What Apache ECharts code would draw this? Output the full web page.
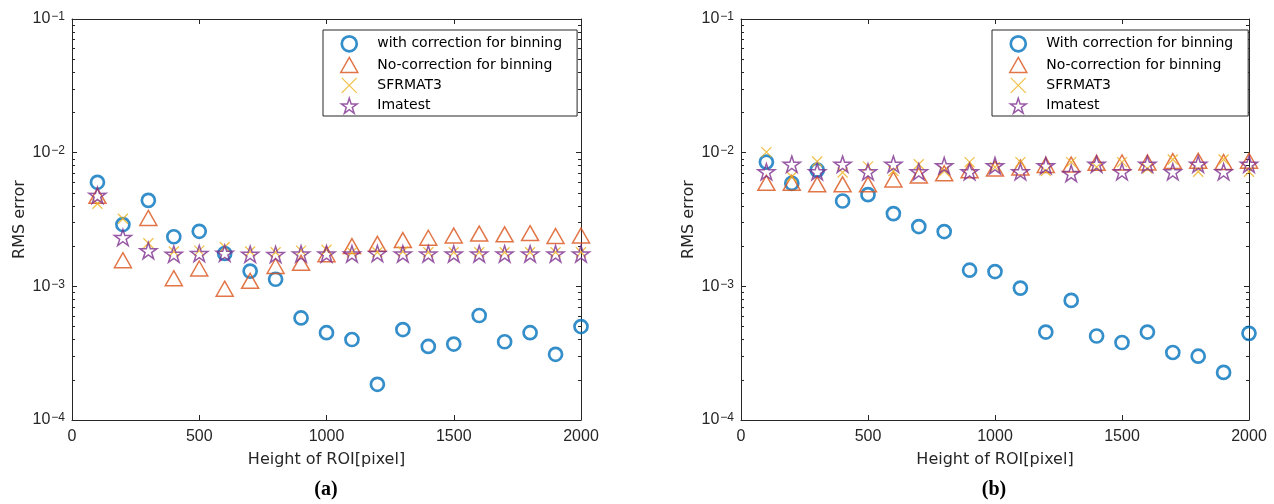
<!DOCTYPE html>
<html>
<head>
<meta charset="utf-8">
<script src="https://cdn.jsdelivr.net/npm/echarts@6/dist/echarts.min.js"></script>
<style>
html,body{margin:0;padding:0;background:#fff;}
#chart{width:1274px;height:504px;}
</style>
</head>
<body>
<div id="chart"></div>
<script>
// ---- data ----
const heights = [100,200,300,400,500,600,700,800,900,1000,1100,1200,1300,1400,1500,1600,1700,1800,1900,2000];

// (a)
const aWith = [6.0e-3,2.9e-3,4.4e-3,2.35e-3,2.58e-3,1.76e-3,1.3e-3,1.13e-3,5.8e-4,4.5e-4,4.0e-4,1.85e-4,4.75e-4,3.55e-4,3.7e-4,6.05e-4,3.85e-4,4.5e-4,3.1e-4,5.0e-4];
const aNo   = [4.75e-3,1.57e-3,3.25e-3,1.15e-3,1.36e-3,0.96e-3,1.1e-3,1.42e-3,1.5e-3,1.74e-3,2.0e-3,2.08e-3,2.22e-3,2.31e-3,2.4e-3,2.48e-3,2.45e-3,2.5e-3,2.38e-3,2.4e-3];
const aSfr  = [4.15e-3,3.2e-3,2.1e-3,1.82e-3,1.85e-3,1.97e-3,1.82e-3,1.8e-3,1.85e-3,1.88e-3,1.8e-3,1.8e-3,1.82e-3,1.8e-3,1.8e-3,1.8e-3,1.8e-3,1.8e-3,1.8e-3,1.8e-3];
const aIma  = [4.8e-3,2.32e-3,1.85e-3,1.74e-3,1.76e-3,1.77e-3,1.74e-3,1.73e-3,1.75e-3,1.75e-3,1.75e-3,1.76e-3,1.75e-3,1.75e-3,1.75e-3,1.75e-3,1.75e-3,1.75e-3,1.75e-3,1.75e-3];

// (b)
const bWith = [8.5e-3,5.9e-3,7.4e-3,4.35e-3,4.85e-3,3.5e-3,2.8e-3,2.57e-3,1.32e-3,1.29e-3,9.7e-4,4.55e-4,7.85e-4,4.25e-4,3.8e-4,4.55e-4,3.2e-4,3.0e-4,2.27e-4,4.45e-4];
const bNo   = [5.95e-3,5.95e-3,5.8e-3,5.8e-3,5.8e-3,6.3e-3,6.75e-3,7.0e-3,7.4e-3,7.6e-3,7.75e-3,8.1e-3,8.15e-3,8.4e-3,8.45e-3,8.45e-3,8.65e-3,8.7e-3,8.5e-3,8.7e-3];
const bSfr  = [1.01e-2,6.6e-3,8.6e-3,7.1e-3,7.9e-3,7.3e-3,8.2e-3,7.3e-3,8.5e-3,7.8e-3,8.5e-3,7.3e-3,8.5e-3,7.8e-3,8.5e-3,7.6e-3,8.9e-3,7.2e-3,8.9e-3,7.2e-3];
const bIma  = [7.2e-3,8.2e-3,7.2e-3,8.2e-3,7.2e-3,8.2e-3,7.2e-3,8.0e-3,7.2e-3,8.0e-3,7.2e-3,8.0e-3,7.0e-3,8.2e-3,7.2e-3,8.2e-3,7.2e-3,8.2e-3,7.2e-3,8.2e-3];

const namesA = ['with correction for binning','No-correction for binning','SFRMAT3','Imatest'];
const namesB = ['With correction for binning','No-correction for binning','SFRMAT3','Imatest'];
const panelLabels = ['(a)','(b)'];
const xName = 'Height of ROI[pixel]';
const yName = 'RMS error';
const yMajorTicks = [1e-4,1e-3,1e-2,1e-1];
const yMinorTicks = [2e-4,3e-4,4e-4,5e-4,6e-4,7e-4,8e-4,9e-4,2e-3,3e-3,4e-3,5e-3,6e-3,7e-3,8e-3,9e-3,2e-2,3e-2,4e-2,5e-2,6e-2,7e-2,8e-2,9e-2];

// ---- styles ----
const AX = '#262626';
const C = ['#0072BD','#D95319','#EDB120','#7E2F8E'];
const STAR = 'path://M50,0L61.17,34.63L97.55,34.55L68.07,55.87L79.39,90.45L50,69L20.61,90.45L31.93,55.87L2.45,34.55L38.83,34.63Z';
const TRI = 'path://M50,0L100,88L0,88Z';
const CROSS = 'path://M0,0L10,10M10,0L0,10';
const SANS = 'Liberation Sans';
const NAMEFONT = 'DejaVu Sans';

const grids = [
  {left:72, right:693, top:19, bottom:84},
  {left:741, right:25, top:19, bottom:84}
];

function pairs(vals){ return heights.map((h,i)=>[h, vals[i]]); }

const xAxes = [], yAxes = [], series = [], legends = [], graphics = [];
const sets = [[aWith,aNo,aSfr,aIma],[bWith,bNo,bSfr,bIma]];
const nameSets = [namesA, namesB];

for (let g=0; g<2; g++) {
  xAxes.push({
    gridIndex:g, type:'value', min:0, max:2000, interval:500, position:'bottom',
    axisLine:{show:true, onZero:false, lineStyle:{color:AX, width:1}},
    axisTick:{show:true, inside:true, length:5, lineStyle:{color:AX}},
    axisLabel:{margin:9, fontSize:16, fontFamily:SANS, color:AX, formatter: v => String(v)},
    splitLine:{show:false},
    name:xName, nameLocation:'middle', nameGap:32,
    nameTextStyle:{fontSize:16, fontFamily:NAMEFONT, color:AX}
  });
  xAxes.push({
    gridIndex:g, type:'value', min:0, max:2000, interval:500, position:'top',
    axisLine:{show:true, onZero:false, lineStyle:{color:AX, width:1}},
    axisTick:{show:true, inside:true, length:5, lineStyle:{color:AX}},
    axisLabel:{show:false}, splitLine:{show:false}
  });
  const labelFmt = v => {
    const e = Math.round(Math.log10(v));
    return '{b|10}{s|\u2212' + Math.abs(e) + '}';
  };
  yAxes.push({
    gridIndex:g, type:'log', logBase:10, min:1e-4, max:1e-1, position:'left',
    axisLine:{show:true, onZero:false, lineStyle:{color:AX, width:1}},
    axisTick:{show:true, inside:true, length:5, customValues:yMajorTicks, lineStyle:{color:AX}},
    axisLabel:{margin:7, customValues:yMajorTicks, formatter:labelFmt,
      rich:{
        b:{fontSize:16, fontFamily:SANS, color:AX, verticalAlign:'bottom', lineHeight:16},
        s:{fontSize:12, fontFamily:SANS, color:AX, verticalAlign:'top', lineHeight:12, padding:[0,0,8,1]}
      }},
    splitLine:{show:false}, minorTick:{show:false},
    name:yName, nameLocation:'middle', nameGap:44,
    nameTextStyle:{fontSize:16, fontFamily:NAMEFONT, color:AX}
  });
  yAxes.push({
    gridIndex:g, type:'log', logBase:10, min:1e-4, max:1e-1, position:'right',
    axisLine:{show:true, onZero:false, lineStyle:{color:AX, width:1}},
    axisTick:{show:true, inside:true, length:5, customValues:yMajorTicks, lineStyle:{color:AX}},
    axisLabel:{show:false}, splitLine:{show:false}
  });
  yAxes.push({
    gridIndex:g, type:'log', logBase:10, min:1e-4, max:1e-1, position:'left',
    axisLine:{show:false, onZero:false},
    axisTick:{show:true, inside:true, length:3, customValues:yMinorTicks, lineStyle:{color:AX}},
    axisLabel:{show:false}, splitLine:{show:false}
  });
  yAxes.push({
    gridIndex:g, type:'log', logBase:10, min:1e-4, max:1e-1, position:'right',
    axisLine:{show:false, onZero:false},
    axisTick:{show:true, inside:true, length:3, customValues:yMinorTicks, lineStyle:{color:AX}},
    axisLabel:{show:false}, splitLine:{show:false}
  });

  const d = sets[g], n = nameSets[g];
  const common = {type:'scatter', xAxisIndex:g*2, yAxisIndex:g*4, symbolKeepAspect:true, emphasis:{disabled:true}};
  series.push(Object.assign({}, common, {name:n[0], data:pairs(d[0]), symbol:'circle', symbolSize:13,
    itemStyle:{color:'transparent', borderColor:C[0], borderWidth:2.7}}));
  series.push(Object.assign({}, common, {name:n[1], data:pairs(d[1]), symbol:TRI, symbolSize:17,
    itemStyle:{color:'transparent', borderColor:C[1], borderWidth:1.5}}));
  series.push(Object.assign({}, common, {name:n[2], data:pairs(d[2]), symbol:CROSS, symbolSize:10,
    itemStyle:{color:'transparent', borderColor:C[2], borderWidth:1.3}}));
  series.push(Object.assign({}, common, {name:n[3], data:pairs(d[3]), symbol:STAR, symbolSize:17,
    itemStyle:{color:'transparent', borderColor:C[3], borderWidth:1.5}}));

  legends.push({
    show:true, orient:'vertical', left: g===0 ? 323 : 992, top:30,
    itemWidth:46, itemHeight:15, itemGap:4, padding:[5,15,2,17],
    borderColor:AX, borderWidth:1, backgroundColor:'#fff', selectedMode:false,
    symbolKeepAspect:true,
    textStyle:{fontFamily:'DejaVu Sans', fontSize:14, color:'#000'},
    data:[
      {name:n[0], itemStyle:{borderWidth:2.7}},
      {name:n[1], itemStyle:{borderWidth:1.5}},
      {name:n[2], itemStyle:{borderWidth:1.3}},
      {name:n[3], itemStyle:{borderWidth:1.5}}
    ]
  });

  graphics.push({type:'text', x: g===0 ? 326 : 994, y:490,
    style:{text:panelLabels[g], align:'center', verticalAlign:'middle',
      font:'bold 20px "Liberation Serif"', fill:'#000'}});
}

const chart = echarts.init(document.getElementById('chart'), null, {renderer:'canvas'});
chart.setOption({
  animation:false,
  backgroundColor:'#fff',
  grid:grids,
  xAxis:xAxes,
  yAxis:yAxes,
  legend:legends,
  series:series,
  graphic:graphics
});
</script>
</body>
</html>
